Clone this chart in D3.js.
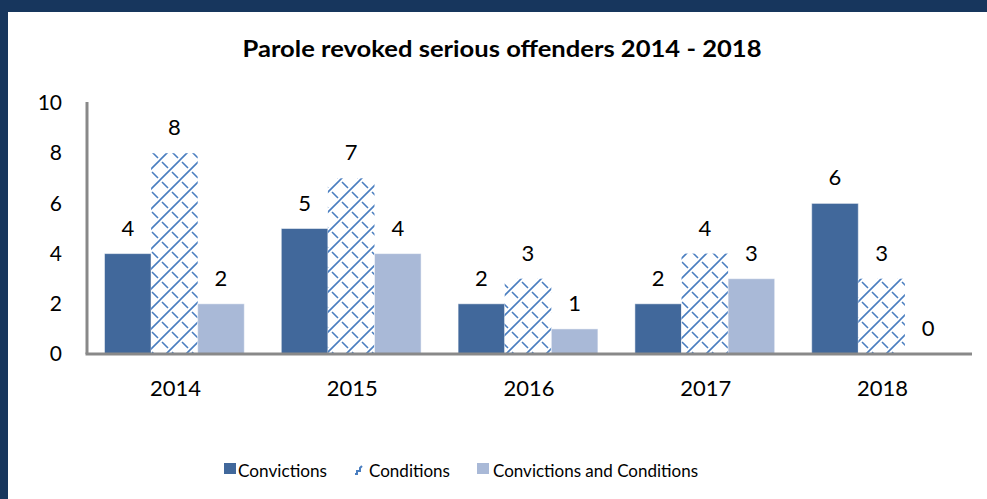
<!DOCTYPE html>
<html><head><meta charset="utf-8">
<script src="https://cdn.jsdelivr.net/npm/d3@7"></script>
<style>html,body{margin:0;padding:0;background:#fff;overflow:hidden}</style>
</head><body>
<svg id="c" width="987" height="499"></svg>
<script>
const title = "Parole revoked serious offenders 2014 - 2018";
const years = ["2014", "2015", "2016", "2017", "2018"];
const seriesNames = ["Convictions", "Conditions", "Convictions and Conditions"];
const convictions = [4, 5, 2, 2, 6];
const conditions = [8, 7, 3, 4, 3];
const both = [2, 4, 1, 3, 0];
const yTicks = [0, 2, 4, 6, 8, 10];

const seriesValues = [convictions, conditions, both];
const FONT = "Lato, 'Open Sans', sans-serif";
const svg = d3.select("#c");

// frame
svg.append("rect").attr("x",0).attr("y",0).attr("width",987).attr("height",499).attr("fill","#17365D");
svg.append("rect").attr("x",8).attr("y",12).attr("width",979).attr("height",487).attr("fill","#ffffff");

// hatch pattern
const defs = svg.append("defs");
const pat = defs.append("pattern").attr("id","hatch").attr("patternUnits","userSpaceOnUse")
  .attr("width",20).attr("height",20);
pat.append("rect").attr("width",20).attr("height",20).attr("fill","#fff");
pat.append("path")
  .attr("d","M0,20L20,0M-5,5L5,-5M15,25L25,15")
  .attr("stroke","#4A7EC0").attr("stroke-width",1.6).attr("fill","none");
pat.append("path")
  .attr("d","M2,2L8,8M12,12L18,18")
  .attr("stroke","#4A7EC0").attr("stroke-width",1.6).attr("fill","none");

const colors = ["#41689B", "url(#hatch)", "#A9B9D7"];

const x0 = d3.scaleBand().domain(years).range([87, 971]).padding(0);
const x1 = d3.scaleBand().domain(seriesNames).range([17.5, x0.bandwidth()-19.5]).padding(0);
const y = d3.scaleLinear().domain([0, 10]).range([354, 103]);

// title
svg.append("text").attr("x",502).attr("y",57).attr("text-anchor","middle")
  .attr("font-family",FONT).attr("font-weight","bold").attr("font-size",22).attr("fill","#000")
  .attr("textLength",519).attr("lengthAdjust","spacingAndGlyphs").text(title);

// bars
const g = svg.append("g");
years.forEach((yr, i) => {
  seriesNames.forEach((s, j) => {
    const v = seriesValues[j][i];
    const bx = x0(yr) + x1(s);
    if (v > 0) {
      g.append("rect").attr("x", bx).attr("y", y(v)).attr("width", x1.bandwidth())
        .attr("height", y(0) - y(v)).attr("fill", colors[j])
        .attr("stroke", j === 1 ? "none" : "#ffffff").attr("stroke-opacity",0.5).attr("stroke-width",1);
    }
    g.append("text").attr("x", bx + x1.bandwidth()/2).attr("y", y(v) - 18)
      .attr("text-anchor","middle").attr("font-family",FONT).attr("font-size",22).attr("fill","#000")
      .text(v);
  });
});

// axes
const yAxis = d3.axisLeft(y).tickValues(yTicks).tickSize(0).tickPadding(25);
const ya = svg.append("g").attr("transform","translate(87,0)").call(yAxis);
ya.select(".domain").remove();
ya.selectAll("text").attr("font-family",FONT).attr("font-size",21).attr("fill","#000");
svg.append("line").attr("x1",87).attr("x2",87).attr("y1",102).attr("y2",354)
  .attr("stroke","#898989").attr("stroke-width",3);

const xAxis = d3.axisBottom(x0).tickSize(0).tickPadding(26);
const xa = svg.append("g").attr("transform","translate(0,354)").call(xAxis);
xa.select(".domain").remove();
xa.selectAll("text").attr("font-family",FONT).attr("font-size",22).attr("fill","#000");
svg.append("line").attr("x1",85.5).attr("x2",972).attr("y1",354).attr("y2",354)
  .attr("stroke","#898989").attr("stroke-width",3);

// legend
const legX = [224, 355, 477];
const legTextX = [238, 369, 493];
const legW = [89, 81, 205];
seriesNames.forEach((s, j) => {
  if (j === 1) {
    svg.append("path").attr("d", `M${legX[j]},474L${legX[j]+2},474L${legX[j]+2},471L${legX[j]+5},471L${legX[j]+5},468L${legX[j]+7},466`)
      .attr("stroke","#4A7EC0").attr("stroke-width",2).attr("fill","none");
  } else {
    svg.append("rect").attr("x",legX[j]).attr("y",463).attr("width",12).attr("height",11).attr("fill",colors[j]);
  }
  svg.append("text").attr("x",legTextX[j]).attr("y",477).attr("font-family",FONT)
    .attr("font-size",18).attr("fill","#000")
    .attr("textLength",legW[j]).attr("lengthAdjust","spacingAndGlyphs").text(s);
});
</script>
</body></html>
